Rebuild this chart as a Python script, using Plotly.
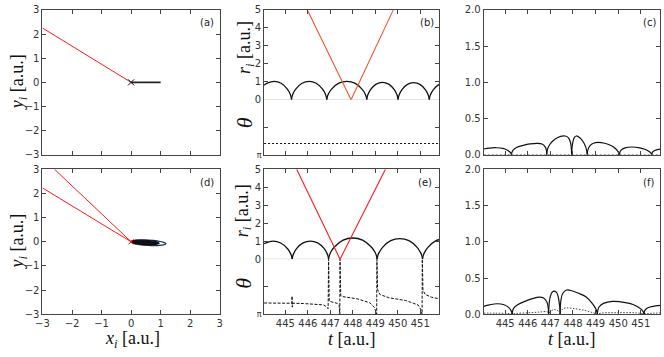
import plotly.graph_objects as go

# ---------------- data ----------------
XY_TICKS = [-3, -2, -1, 0, 1, 2, 3]
T_TICKS = [445, 446, 447, 448, 449, 450, 451]
T_RANGE = [444.05, 451.85]
R_TICKS = [0, 1, 2, 3, 4, 5]
THETA_TICKS = [1]                  # theta in units of pi
THETA_TEXT = ['π']
THETA_MINOR = [0.5]
V_TICKS = [0.0, 0.5, 1.0, 1.5, 2.0]

# (a) trajectories
A_RED_X = [0, -3.0]
A_RED_Y = [0, 2.25]
A_BLK_X = [0, 1.0]
A_BLK_Y = [0, 0]
NUC_X = [0]
NUC_Y = [0]

# (d) trajectories
D_RED1_X = [0, -3.0]
D_RED1_Y = [0, 2.23]
D_RED2_X = [0, -2.59]
D_RED2_Y = [0, 3.0]
D_ORB_OUT_X = [1.179, 1.102, 0.886, 0.588, 0.287, 0.065, -0.019, 0.058, 0.274, 0.572, 0.873, 1.095, 1.179]
D_ORB_OUT_Y = [-0.082, -0.021, 0.034, 0.070, 0.076, 0.051, 0.002, -0.059, -0.114, -0.150, -0.156, -0.131, -0.082]
D_ORB_IN_X = [0.949, 0.888, 0.715, 0.476, 0.236, 0.058, -0.009, 0.052, 0.226, 0.464, 0.704, 0.882, 0.949]
D_ORB_IN_Y = [-0.063, -0.016, 0.027, 0.055, 0.060, 0.041, 0.003, -0.044, -0.087, -0.115, -0.120, -0.101, -0.063]

# (b) r_i(t) of the bound electron (arches), escaping electron (V), theta(t)
B_ARCH_T = [
    [444.05, 444.19, 444.50, 444.81, 445.085, 445.21, 445.255, 445.27],
    [445.27, 445.286, 445.333, 445.458, 445.741, 446.055, 446.369, 446.652, 446.777, 446.824, 446.84],
    [446.84, 446.858, 446.911, 447.054, 447.374, 447.73, 448.086, 448.406, 448.549, 448.602, 448.62],
    [448.62, 448.634, 448.676, 448.787, 449.037, 449.315, 449.593, 449.843, 449.954, 449.996, 450.01],
    [450.01, 450.024, 450.066, 450.177, 450.427, 450.705, 450.983, 451.233, 451.344, 451.386, 451.40],
    [451.40, 451.415, 451.458, 451.574, 451.835, 451.90],
]
B_ARCH_R = [
    [0.80, 0.92, 1.02, 0.92, 0.59, 0.32, 0.13, 0.0],
    [0.0, 0.13, 0.32, 0.59, 0.92, 1.02, 0.92, 0.59, 0.32, 0.13, 0.0],
    [0.0, 0.13, 0.32, 0.59, 0.92, 1.02, 0.92, 0.59, 0.32, 0.13, 0.0],
    [0.0, 0.126, 0.30, 0.56, 0.87, 0.97, 0.87, 0.56, 0.30, 0.126, 0.0],
    [0.0, 0.124, 0.29, 0.55, 0.855, 0.95, 0.855, 0.55, 0.29, 0.124, 0.0],
    [0.0, 0.124, 0.29, 0.55, 0.855, 0.88],
]
B_RED_T = [445.97, 447.92, 449.80]
B_RED_R = [5.0, 0.0, 5.0]
B_TH_T = [444.05, 451.85]
B_TH = [0.795, 0.795]

# (e)
E_ARCH_T = [
    [444.05, 444.11, 444.45, 444.79, 445.096, 445.232, 445.283, 445.30],
    [445.30, 445.316, 445.365, 445.494, 445.786, 446.11, 446.434, 446.726, 446.855, 446.904, 446.92],
    [446.92, 446.942, 447.006, 447.179, 447.568, 448.00, 448.432, 448.821, 448.994, 449.058, 449.08],
    [449.08, 449.10, 449.161, 449.322, 449.686, 450.09, 450.494, 450.858, 451.019, 451.08, 451.10],
    [451.10, 451.12, 451.18, 451.34, 451.70, 451.90],
]
E_ARCH_R = [
    [0.86, 0.90, 1.0, 0.90, 0.58, 0.31, 0.13, 0.0],
    [0.0, 0.13, 0.31, 0.59, 0.91, 1.01, 0.91, 0.59, 0.31, 0.13, 0.0],
    [0.0, 0.15, 0.37, 0.68, 1.06, 1.18, 1.06, 0.68, 0.37, 0.15, 0.0],
    [0.0, 0.15, 0.35, 0.66, 1.03, 1.14, 1.03, 0.66, 0.35, 0.15, 0.0],
    [0.0, 0.15, 0.35, 0.66, 1.03, 1.10],
]
E_RED_T = [445.50, 447.43, 449.45]
E_RED_R = [5.0, 0.0, 5.0]
E_TH_T = [444.05, 444.6, 445.2, 445.29, 445.295, 445.305, 445.31, 445.8, 446.4, 446.7, 446.85, 446.9,
          446.92, 446.95, 447.1, 447.3, 447.39, 447.42, 447.43, 447.46, 447.55, 448.2, 448.75, 448.95,
          449.03, 449.06, 449.07, 449.1, 449.2, 449.6, 450.35, 450.9, 451.03, 451.08, 451.09, 451.12,
          451.22, 451.5, 451.85]
E_TH = [0.795, 0.795, 0.80, 0.80, 0.67, 0.87, 0.80, 0.805, 0.815, 0.83, 0.87, 0.90,
        0.0, 0.76, 0.78, 0.80, 0.84, 1.0, 0.0, 0.66, 0.68, 0.72, 0.79, 0.87,
        0.96, 1.0, 0.0, 0.55, 0.64, 0.70, 0.75, 0.83, 0.92, 1.0, 0.0, 0.56,
        0.64, 0.69, 0.72]

# (c)
C_ARCH_T = [
    [444.05, 444.30, 444.60, 444.90, 445.12, 445.23, 445.27, 445.28],
    [445.28, 445.295, 445.35, 445.50, 445.80, 446.10, 446.45, 446.65, 446.77, 446.825, 446.84],
    [446.84, 446.855, 446.90, 447.00, 447.20, 447.45, 447.65, 447.80, 447.89, 447.925, 447.94],
    [447.94, 447.955, 447.99, 448.06, 448.15, 448.30, 448.45, 448.56, 448.61, 448.63],
    [448.63, 448.645, 448.70, 448.82, 449.00, 449.40, 449.70, 449.90, 450.02, 450.06],
    [450.06, 450.075, 450.13, 450.30, 450.60, 450.90, 451.15, 451.35, 451.45, 451.49],
    [451.49, 451.505, 451.56, 451.70, 451.90],
]
C_ARCH_V = [
    [0.08, 0.093, 0.098, 0.088, 0.06, 0.032, 0.013, 0.0],
    [0.0, 0.03, 0.065, 0.10, 0.13, 0.15, 0.158, 0.145, 0.11, 0.06, 0.0],
    [0.0, 0.05, 0.10, 0.155, 0.215, 0.255, 0.26, 0.235, 0.17, 0.09, 0.0],
    [0.0, 0.09, 0.17, 0.24, 0.26, 0.235, 0.18, 0.11, 0.05, 0.0],
    [0.0, 0.05, 0.10, 0.145, 0.168, 0.16, 0.125, 0.08, 0.03, 0.0],
    [0.0, 0.035, 0.065, 0.095, 0.108, 0.10, 0.08, 0.05, 0.025, 0.0],
    [0.0, 0.03, 0.05, 0.068, 0.078],
]
C_DOT_T = [444.05, 451.85]
C_DOT_V = [0.004, 0.004]

# (f)
F_ARCH_T = [
    [444.05, 444.30, 444.65, 444.95, 445.15, 445.26, 445.30, 445.31],
    [445.31, 445.325, 445.38, 445.55, 445.85, 446.20, 446.50, 446.70, 446.83, 446.90, 446.92],
    [446.92, 446.93, 446.95, 447.00, 447.08, 447.17, 447.26, 447.34, 447.39, 447.42, 447.43],
    [447.43, 447.44, 447.47, 447.55, 447.72, 447.95, 448.25, 448.60, 448.85, 449.00, 449.06, 449.08],
    [449.08, 449.095, 449.15, 449.35, 449.75, 450.10, 450.50, 450.80, 451.00, 451.10, 451.15],
    [451.15, 451.165, 451.22, 451.40, 451.65, 451.90],
]
F_ARCH_V = [
    [0.11, 0.13, 0.145, 0.132, 0.095, 0.05, 0.02, 0.0],
    [0.0, 0.04, 0.085, 0.13, 0.175, 0.215, 0.237, 0.225, 0.18, 0.10, 0.0],
    [0.0, 0.08, 0.16, 0.25, 0.305, 0.32, 0.305, 0.25, 0.16, 0.08, 0.0],
    [0.0, 0.10, 0.20, 0.29, 0.335, 0.325, 0.29, 0.235, 0.15, 0.08, 0.03, 0.0],
    [0.0, 0.05, 0.10, 0.15, 0.178, 0.172, 0.15, 0.115, 0.075, 0.04, 0.0],
    [0.0, 0.04, 0.07, 0.10, 0.115, 0.122],
]
F_DOT_T = [444.05, 444.6, 445.1, 445.31, 445.5, 446.0, 446.5, 446.85, 446.92, 447.05, 447.17, 447.3,
           447.43, 447.55, 447.7, 448.0, 448.5, 448.9, 449.08, 449.3, 450.0, 450.8, 451.15, 451.5, 451.85]
F_DOT_V = [0.015, 0.015, 0.012, 0.005, 0.012, 0.02, 0.03, 0.035, 0.02, 0.05, 0.065, 0.055,
           0.03, 0.075, 0.088, 0.08, 0.055, 0.02, 0.005, 0.018, 0.022, 0.02, 0.008, 0.015, 0.018]

# ---------------- styling ----------------
W, H = 664, 357
FRAME = '#444444'
BLACK = '#111111'
RED = '#ff1a1a'
ORANGE_RED = '#f0562a'
NAVY = '#1a2f5a'
TICKFONT = dict(family='DejaVu Sans', size=10, color='#333333')
TITLEFONT = dict(family='Liberation Serif', size=18, color='#111111')
LABELFONT = dict(family='DejaVu Sans', size=10, color='#222222')

LEFT, MID, RIGHT = (36, 216), (261, 439), (484, 663)
TOP, BOT = (4, 154), (169, 319)
TOP_SPLIT, BOT_SPLIT = 97, 262


def dx(a, b):
    return [a / W, b / W]


def dy(top, bottom):
    return [1 - bottom / H, 1 - top / H]


def px(x):
    return x / W


def py(y):
    return 1 - y / H


def join(ts, vs):
    xx, yy = [], []
    for t, v in zip(ts, vs):
        if xx:
            xx.append(None)
            yy.append(None)
        xx.extend(t)
        yy.extend(v)
    return xx, yy


fig = go.Figure()


def add(x, y, xa, ya, color, width=1.2, dash='solid', shape='linear', **kw):
    fig.add_trace(go.Scatter(x=x, y=y, xaxis=xa, yaxis=ya, mode='lines',
                             line=dict(color=color, width=width, dash=dash, shape=shape),
                             hoverinfo='skip', **kw))


# (a)
add(A_RED_X, A_RED_Y, 'x', 'y', RED, 1.0)
add(A_BLK_X, A_BLK_Y, 'x', 'y', '#222222', 1.6)
fig.add_trace(go.Scatter(x=NUC_X, y=NUC_Y, xaxis='x', yaxis='y', mode='markers', hoverinfo='skip',
                         marker=dict(symbol='x-thin', size=6, line=dict(width=1, color=BLACK))))

# (d)
fig.add_trace(go.Scatter(x=D_ORB_OUT_X, y=D_ORB_OUT_Y, xaxis='x5', yaxis='y5', mode='lines',
                         hoverinfo='skip', line=dict(color=NAVY, width=1.3, shape='spline')))
fig.add_trace(go.Scatter(x=D_ORB_IN_X, y=D_ORB_IN_Y, xaxis='x5', yaxis='y5', mode='lines',
                         fill='toself', fillcolor=BLACK, hoverinfo='skip',
                         line=dict(color=BLACK, width=1.3, shape='spline')))
add(D_RED1_X, D_RED1_Y, 'x5', 'y5', RED, 1.0)
add(D_RED2_X, D_RED2_Y, 'x5', 'y5', RED, 1.0)
fig.add_trace(go.Scatter(x=NUC_X, y=NUC_Y, xaxis='x5', yaxis='y5', mode='markers', hoverinfo='skip',
                         marker=dict(symbol='x-thin', size=5, line=dict(width=1, color=RED))))

# (b)
bx, by = join(B_ARCH_T, B_ARCH_R)
add(bx, by, 'x2', 'y2', BLACK, 1.3, shape='spline')
add(B_RED_T, B_RED_R, 'x2', 'y2', ORANGE_RED, 1.1)
add(B_TH_T, B_TH, 'x3', 'y3', BLACK, 1.1, dash='2px,2px')

# (e)
ex, ey = join(E_ARCH_T, E_ARCH_R)
add(ex, ey, 'x6', 'y6', BLACK, 1.3, shape='spline')
add(E_RED_T, E_RED_R, 'x6', 'y6', RED, 1.1)
add(E_TH_T, E_TH, 'x7', 'y7', BLACK, 1.0, dash='3px,1.5px')

# (c)
cx, cy = join(C_ARCH_T, C_ARCH_V)
add(C_DOT_T, C_DOT_V, 'x4', 'y4', '#888888', 1.0, dash='2px,2px')
add(cx, cy, 'x4', 'y4', BLACK, 1.2, shape='spline')

# (f)
fx, fy = join(F_ARCH_T, F_ARCH_V)
add(F_DOT_T, F_DOT_V, 'x8', 'y8', '#444444', 1.0, dash='1.5px,1.5px', shape='spline')
add(fx, fy, 'x8', 'y8', BLACK, 1.2, shape='spline')

base = dict(showline=True, linecolor=FRAME, linewidth=1, ticks='inside', ticklen=4,
            tickwidth=1, tickcolor=FRAME, showgrid=False, zeroline=False,
            tickfont=TICKFONT, mirror='allticks', fixedrange=True)
theta_minor = dict(tickvals=THETA_MINOR, ticks='inside', ticklen=4, tickcolor=FRAME, showgrid=False)

layout = dict(
    xaxis=dict(base, domain=dx(*LEFT), anchor='y', range=[-3, 3], tickvals=XY_TICKS, showticklabels=False),
    yaxis=dict(base, domain=dy(*TOP), anchor='x', range=[-3, 3], tickvals=XY_TICKS),
    xaxis2=dict(base, mirror=False, side='top', domain=dx(*MID), anchor='y2', range=T_RANGE,
                tickvals=T_TICKS, showticklabels=False),
    yaxis2=dict(base, domain=dy(TOP[0], TOP_SPLIT), anchor='x2', range=[0, 5], tickvals=R_TICKS),
    xaxis3=dict(base, mirror=False, domain=dx(*MID), anchor='y3', range=T_RANGE,
                tickvals=T_TICKS, showticklabels=False),
    yaxis3=dict(base, domain=dy(TOP_SPLIT, TOP[1]), anchor='x3', range=[1, 0], tickvals=THETA_TICKS,
                ticktext=THETA_TEXT, tickfont=dict(TICKFONT, size=8), minor=theta_minor),
    xaxis4=dict(base, domain=dx(*RIGHT), anchor='y4', range=T_RANGE, tickvals=T_TICKS, showticklabels=False),
    yaxis4=dict(base, domain=dy(*TOP), anchor='x4', range=[0, 2], tickvals=V_TICKS, tickformat='.1f'),
    xaxis5=dict(base, domain=dx(*LEFT), anchor='y5', range=[-3, 3], tickvals=XY_TICKS),
    yaxis5=dict(base, domain=dy(*BOT), anchor='x5', range=[-3, 3], tickvals=XY_TICKS),
    xaxis6=dict(base, mirror=False, side='top', domain=dx(*MID), anchor='y6', range=T_RANGE,
                tickvals=T_TICKS, showticklabels=False),
    yaxis6=dict(base, domain=dy(BOT[0], BOT_SPLIT), anchor='x6', range=[0, 5], tickvals=R_TICKS),
    xaxis7=dict(base, mirror=False, domain=dx(*MID), anchor='y7', range=T_RANGE, tickvals=T_TICKS),
    yaxis7=dict(base, domain=dy(BOT_SPLIT, BOT[1]), anchor='x7', range=[1, 0], tickvals=THETA_TICKS,
                ticktext=THETA_TEXT, tickfont=dict(TICKFONT, size=8), minor=theta_minor),
    xaxis8=dict(base, domain=dx(*RIGHT), anchor='y8', range=T_RANGE, tickvals=T_TICKS),
    yaxis8=dict(base, domain=dy(*BOT), anchor='x8', range=[0, 2], tickvals=V_TICKS, tickformat='.1f'),
)

shapes = [
    dict(type='line', xref='x2 domain', yref='y2', x0=0, x1=1, y0=0, y1=0,
         line=dict(color='#d0d0d0', width=1), layer='below'),
    dict(type='line', xref='x6 domain', yref='y6', x0=0, x1=1, y0=0, y1=0,
         line=dict(color='#d0d0d0', width=1), layer='below'),
]

YI = '<i>y</i><sub><i>i</i></sub> [a.u.]'
XI = '<i>x</i><sub><i>i</i></sub> [a.u.]'
RI = '<i>r</i><sub><i>i</i></sub> [a.u.]'
TT = '<i>t</i> [a.u.]'
TH = '<i>θ</i>'


def ann(text, x, y, font, angle=0):
    return dict(text=text, x=px(x), y=py(y), xref='paper', yref='paper', showarrow=False,
                xanchor='center', yanchor='middle', textangle=angle, font=font)


annotations = [
    ann('(a)', 203, 17, LABELFONT), ann('(b)', 426, 17, LABELFONT), ann('(c)', 652, 17, LABELFONT),
    ann('(d)', 203, 183, LABELFONT), ann('(e)', 424, 183, LABELFONT), ann('(f)', 651, 183, LABELFONT),
    ann(YI, 12, 79, TITLEFONT, -90), ann(YI, 12, 244, TITLEFONT, -90),
    ann(XI, 127, 345, TITLEFONT),
    ann(RI, 242, 43, TITLEFONT, -90), ann(TH, 242, 121, dict(TITLEFONT, size=22), -90),
    ann(RI, 240, 212, TITLEFONT, -90), ann(TH, 240, 287, dict(TITLEFONT, size=22), -90),
    ann(TT, 350, 345, TITLEFONT), ann(TT, 574, 345, TITLEFONT),
]

fig.update_layout(width=W, height=H, margin=dict(l=0, r=0, t=0, b=0),
                  paper_bgcolor='white', plot_bgcolor='white', showlegend=False,
                  hovermode=False, shapes=shapes, annotations=annotations, **layout)

fig.write_html('out.html', config={'displayModeBar': False, 'staticPlot': True},
               post_script="document.body.style.margin='0';document.body.style.overflow='hidden';")
